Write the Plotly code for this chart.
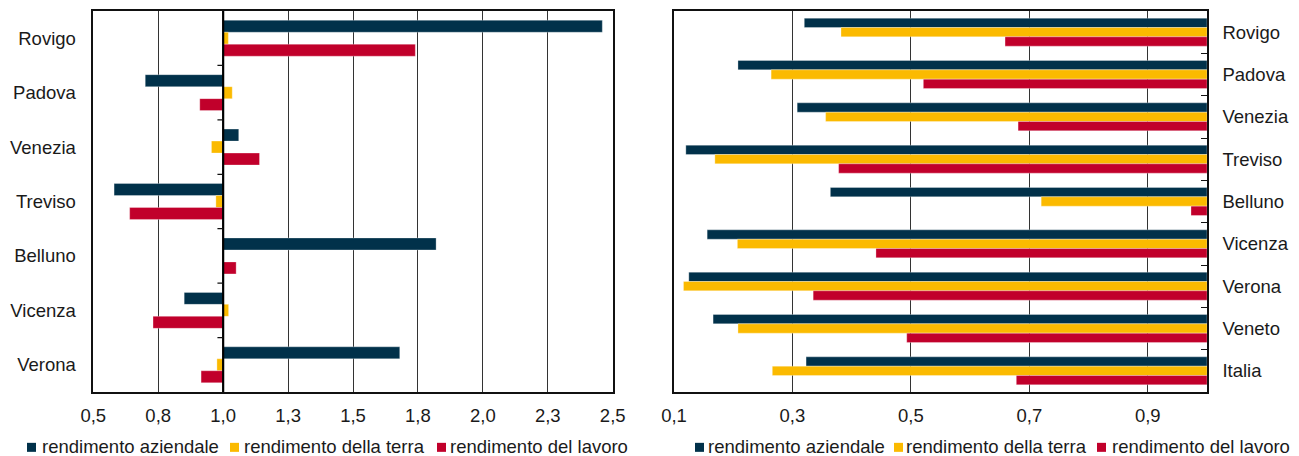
import plotly.graph_objects as go

# ---- data ----
series_names = ["rendimento aziendale", "rendimento della terra", "rendimento del lavoro"]
colors = ["#01314A", "#FBBA00", "#C1002B"]

left_categories = ["Rovigo", "Padova", "Venezia", "Treviso", "Belluno", "Vicenza", "Verona"]
left_aziendale = [2.46, 0.70, 1.06, 0.58, 1.82, 0.85, 1.68]
left_terra = [1.02, 1.035, 0.955, 0.972, 1.0, 1.021, 0.976]
left_lavoro = [1.74, 0.91, 1.14, 0.64, 1.05, 0.73, 0.915]

right_categories = ["Rovigo", "Padova", "Venezia", "Treviso", "Belluno", "Vicenza", "Verona", "Veneto", "Italia"]
right_aziendale = [0.32, 0.208, 0.308, 0.12, 0.364, 0.156, 0.125, 0.166, 0.323]
right_terra = [0.382, 0.264, 0.356, 0.169, 0.72, 0.207, 0.116, 0.208, 0.266]
right_lavoro = [0.659, 0.521, 0.681, 0.378, 0.973, 0.441, 0.335, 0.493, 0.678]

left_tickvals = [0.5, 0.75, 1.0, 1.25, 1.5, 1.75, 2.0, 2.25, 2.5]
left_ticktext = ["0,5", "0,8", "1,0", "1,3", "1,5", "1,8", "2,0", "2,3", "2,5"]
right_tickvals = [0.1, 0.3, 0.5, 0.7, 0.9]
right_ticktext = ["0,1", "0,3", "0,5", "0,7", "0,9"]

BASE = 1.0
OFF = 8  # page body margin offset
W, H = 1299 - OFF, 456 - OFF
FONT = "Liberation Sans, Arial, sans-serif"
FS = 18.5

fig = go.Figure()

left_series = [left_aziendale, left_terra, left_lavoro]
right_series = [right_aziendale, right_terra, right_lavoro]

for name, col, vals in zip(series_names, colors, left_series):
    fig.add_trace(go.Bar(
        y=left_categories, x=[v - BASE for v in vals], base=BASE,
        orientation="h", name=name, marker_color=col,
        marker_line=dict(color="rgba(255,255,255,0.6)", width=0.5),
        xaxis="x", yaxis="y", showlegend=False,
    ))

for name, col, vals in zip(series_names, colors, right_series):
    fig.add_trace(go.Bar(
        y=right_categories, x=[BASE - v for v in vals], base=vals,
        orientation="h", name=name, marker_color=col,
        marker_line=dict(color="rgba(255,255,255,0.6)", width=0.5),
        xaxis="x2", yaxis="y2", showlegend=False,
    ))

left_dom = [(93.3 - OFF) / W, (612.7 - OFF) / W]
right_dom = [(674 - OFF) / W, (1207 - OFF) / W]

tickfont = dict(family=FONT, size=FS, color="#1a1a1a")
axis_common = dict(showline=True, linecolor="#111", mirror=True, automargin=False, tickfont=tickfont)

TOP = 3
plot_bottom = 391.7 - OFF
margin_b = H - plot_bottom
plot_h = H - TOP - margin_b


def px_x(x):
    return (x - OFF) / W


def px_y(y):
    return (plot_bottom - (y - OFF)) / plot_h


fig.update_layout(
    width=W, height=H,
    margin=dict(l=0, r=0, t=TOP, b=margin_b),
    paper_bgcolor="white", plot_bgcolor="white",
    font=dict(family=FONT, size=FS, color="#1a1a1a"),
    barmode="group", bargap=0.34, bargroupgap=0,
    showlegend=False,
    xaxis=dict(domain=left_dom, range=[0.5, 2.5], tickvals=left_tickvals, ticktext=left_ticktext,
               showgrid=True, gridcolor="#333", gridwidth=1, zeroline=False, ticks="",
               ticklabelstandoff=6, linewidth=1.5, anchor="y", **axis_common),
    yaxis=dict(domain=[0, 1], categoryorder="array", categoryarray=left_categories,
               autorange="reversed", ticks="", showgrid=False, ticklabelstandoff=12,
               linewidth=1.5, anchor="x", **axis_common),
    xaxis2=dict(domain=right_dom, range=[0.1, 1.0], tickvals=right_tickvals, ticktext=right_ticktext,
                showgrid=True, gridcolor="#333", gridwidth=1, zeroline=False, ticks="",
                ticklabelstandoff=6, linewidth=1.5, anchor="y2", **axis_common),
    yaxis2=dict(domain=[0, 1], categoryorder="array", categoryarray=right_categories,
                autorange="reversed", side="right", ticks="inside", ticklen=6, tickcolor="#111",
                tickson="boundaries", showgrid=False, ticklabelstandoff=10,
                linewidth=1.5, anchor="x2", **axis_common),
)

# base line at 1.0 on the left panel, with category-boundary ticks
shapes = [dict(type="line", xref="x", yref="paper", x0=BASE, x1=BASE, y0=0, y1=1,
               line=dict(color="#000", width=2.2))]
n = len(left_categories)
for i in range(n - 1):
    shapes.append(dict(type="line", xref="x", yref="y", x0=BASE - 0.022, x1=BASE,
                       y0=i + 0.5, y1=i + 0.5, line=dict(color="#111", width=1.2)))

# legends (one under each panel): colour square + label
legend_square_left = [[27, 230, 437], [695, 894, 1097]]
legend_text_left = [[41, 243, 449], [707, 905, 1111]]
annotations = []
for squares, texts in zip(legend_square_left, legend_text_left):
    for name, col, sx, tx in zip(series_names, colors, squares, texts):
        shapes.append(dict(type="rect", xref="paper", yref="paper",
                           x0=px_x(sx), x1=px_x(sx + 9), y0=px_y(451.5), y1=px_y(442.5),
                           fillcolor=col, line=dict(width=0)))
        annotations.append(dict(text=name, xref="paper", yref="paper", x=px_x(tx), y=px_y(446),
                                xanchor="left", yanchor="middle", showarrow=False, borderpad=0,
                                font=dict(family=FONT, size=FS, color="#1a1a1a")))

fig.update_layout(shapes=shapes, annotations=annotations)

fig.write_html("out.html")
